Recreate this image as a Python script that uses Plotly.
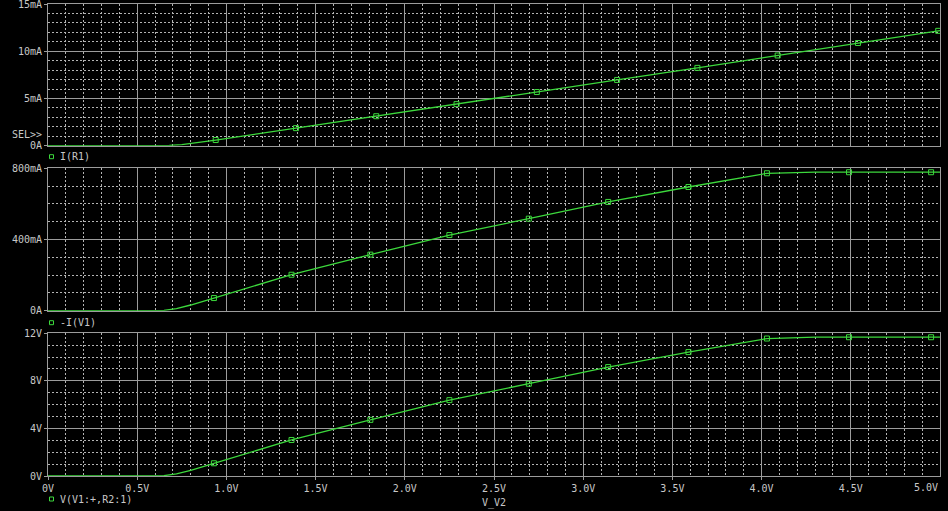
import plotly.graph_objects as go
from plotly.subplots import make_subplots

# ---- data ----
# sweep variable V_V2 (V)
top_x = [0.0, 0.62, 0.68, 0.75, 0.94, 1.39, 1.84, 2.29, 2.74, 3.19, 3.64, 4.09, 4.54, 4.99, 5.0]
top_y = [0.0, 0.0, 0.02, 0.12, 0.6, 1.86, 3.12, 4.4, 5.68, 6.96, 8.24, 9.55, 10.87, 12.16, 12.19]  # I(R1) mA
top_mx = [0.94, 1.39, 1.84, 2.29, 2.74, 3.19, 3.64, 4.09, 4.54, 4.99]
top_my = [0.6, 1.86, 3.12, 4.4, 5.68, 6.96, 8.24, 9.55, 10.87, 12.16]

mid_x = [0.0, 0.6, 0.65, 0.72, 0.8, 0.93, 1.365, 1.807, 2.25, 2.695, 3.14, 3.59, 4.03, 4.3, 4.49, 4.95, 5.0]
mid_y = [0, 0, 2, 12, 32, 71, 202, 315, 425, 517, 611, 695, 772, 778, 778, 778, 778]  # -I(V1) mA
mid_mx = [0.93, 1.365, 1.807, 2.25, 2.695, 3.14, 3.59, 4.03, 4.49, 4.95]
mid_my = [71, 202, 315, 425, 517, 611, 695, 772, 778, 778]

bot_x = [0.0, 0.6, 0.65, 0.72, 0.8, 0.93, 1.365, 1.807, 2.25, 2.695, 3.14, 3.59, 4.03, 4.3, 4.49, 4.95, 5.0]
bot_y = [0, 0, 0.03, 0.18, 0.48, 1.07, 3.03, 4.72, 6.38, 7.76, 9.16, 10.42, 11.56, 11.67, 11.67, 11.67, 11.67]  # V(V1:+,R2:1)
bot_mx = [0.93, 1.365, 1.807, 2.25, 2.695, 3.14, 3.59, 4.03, 4.49, 4.95]
bot_my = [1.07, 3.03, 4.72, 6.38, 7.76, 9.16, 10.42, 11.56, 11.67, 11.67]

x_ticks = [0, 0.5, 1.0, 1.5, 2.0, 2.5, 3.0, 3.5, 4.0, 4.5]
x_labels = ["0V", "0.5V", "1.0V", "1.5V", "2.0V", "2.5V", "3.0V", "3.5V", "4.0V", "4.5V"]
top_ticks = [0, 5, 10, 15]
top_labels = ["0A", "5mA", "10mA", "15mA"]
mid_ticks = [0, 400, 800]
mid_labels = ["0A", "400mA", "800mA"]
bot_ticks = [0, 4, 8, 12]
bot_labels = ["0V", "4V", "8V", "12V"]
legend_names = ["I(R1)", "-I(V1)", "V(V1:+,R2:1)"]

# ---- styling ----
GREEN = "#3cd83c"
TXT = "#c8c8c8"
GRID = "#9c9c9c"
MINOR = "#b4b4b4"
FONT = "DejaVu Sans Mono"

fig = make_subplots(rows=3, cols=1, shared_xaxes=True)

series = [(top_x, top_y, top_mx, top_my), (mid_x, mid_y, mid_mx, mid_my), (bot_x, bot_y, bot_mx, bot_my)]
for i, (lx, ly, mx, my) in enumerate(series, start=1):
    fig.add_trace(go.Scatter(x=lx, y=ly, mode="lines", line=dict(color=GREEN, width=1.3),
                             showlegend=False, hoverinfo="skip"), row=i, col=1)
    fig.add_trace(go.Scatter(x=mx, y=my, mode="markers",
                             marker=dict(symbol="square-open", size=5, color=GREEN, line=dict(width=1, color=GREEN)),
                             showlegend=False, hoverinfo="skip"), row=i, col=1)

W, H = 948, 511
ML, MR, MT, MB = 48, 8, 4, 35
PW, PH = W - ML - MR, H - MT - MB
def px(xp):
    return (xp - ML) / PW
def py(yp):
    return (H - MB - yp) / PH

domains = [[py(145.7), 1.0], [py(310.7), py(168.3)], [0.0, py(333.3)]]
ranges = [[0, 15], [0, 800], [0, 12]]
yticks = [(top_ticks, top_labels, 1), (mid_ticks, mid_labels, 100), (bot_ticks, bot_labels, 1)]

for i in range(3):
    ax = "" if i == 0 else str(i + 1)
    tv, tt, md = yticks[i]
    fig.layout["yaxis" + ax].update(
        domain=domains[i], range=ranges[i], tickvals=tv, ticktext=tt,
        showgrid=True, gridcolor=GRID, gridwidth=1, zeroline=False,
        showline=True, linecolor=GRID, linewidth=1, mirror=True,
        ticks="outside", ticklen=3, tickcolor=GRID, ticklabeloverflow="allow",
        tickfont=dict(family=FONT, size=10, color=TXT),
        minor=dict(dtick=md, showgrid=True, gridcolor=MINOR, griddash="2px,2px", gridwidth=1),
        fixedrange=True,
    )
    fig.layout["xaxis" + ax].update(
        range=[0, 5], tickvals=x_ticks, ticktext=x_labels,
        showticklabels=(i == 2),
        showgrid=True, gridcolor=GRID, gridwidth=1, zeroline=False,
        showline=True, linecolor=GRID, linewidth=1, mirror=True,
        ticks="outside" if i == 2 else "", ticklen=3, tickcolor=GRID,
        tickfont=dict(family=FONT, size=10, color=TXT),
        minor=dict(dtick=0.1, tick0=0, showgrid=True, gridcolor=MINOR, griddash="2px,2px", gridwidth=1),
        fixedrange=True,
    )

ann = []
ann.append(dict(text="SEL>>", x=px(44), y=py(134.7), xref="paper", yref="paper",
                xanchor="right", yanchor="middle", showarrow=False,
                font=dict(family=FONT, size=10, color=TXT)))
leg_y = [156.7, 322.7, 499]
shapes = []
for name, yy in zip(legend_names, leg_y):
    ann.append(dict(text=name, x=px(58), y=py(yy), xref="paper", yref="paper",
                    xanchor="left", yanchor="middle", showarrow=False,
                    font=dict(family=FONT, size=10, color=TXT)))
    shapes.append(dict(type="rect", xref="paper", yref="paper",
                       x0=px(49.5), x1=px(53.5), y0=py(yy + 2), y1=py(yy - 2),
                       line=dict(color=GREEN, width=1), fillcolor="rgba(0,0,0,0)"))
ann.append(dict(text="5.0V", x=1.0, y=py(487), xref="paper", yref="paper",
                xanchor="right", yanchor="middle", showarrow=False,
                font=dict(family=FONT, size=10, color=TXT)))
ann.append(dict(text="V_V2", x=px(494), y=py(511), xref="paper", yref="paper",
                xanchor="center", yanchor="bottom", showarrow=False,
                font=dict(family=FONT, size=10, color=TXT)))

fig.update_layout(
    width=W, height=H, margin=dict(l=ML, r=MR, t=MT, b=MB, autoexpand=False),
    paper_bgcolor="black", plot_bgcolor="black",
    annotations=ann, shapes=shapes, showlegend=False,
)

fig.write_html("out.html", config={"displayModeBar": False},
               post_script="document.body.style.margin='0';document.body.style.background='black';")
